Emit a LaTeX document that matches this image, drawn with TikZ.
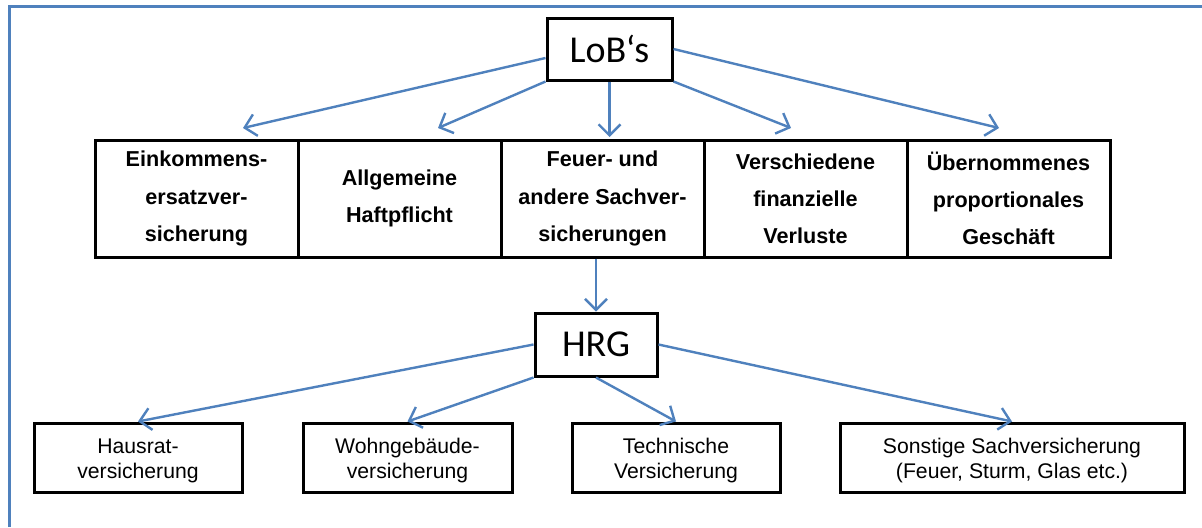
\documentclass[tikz,border=0pt]{standalone}
\usepackage{fontspec}
\setmainfont{Liberation Sans}
\newfontfamily\calfont{Carlito}
\usetikzlibrary{arrows.meta}
\definecolor{frameblue}{HTML}{4F81BD}
\begin{document}
\begin{tikzpicture}[x=0.5pt,y=0.5pt,
  lobbox/.style={draw=black,line width=1.5pt,inner sep=0pt,font=\calfont\fontsize{19}{20}\selectfont},
  lobitem/.style={draw=black,line width=1.5pt,inner sep=0pt,minimum width=101.5pt,minimum height=58.5pt,
    align=center,font=\bfseries\fontsize{10.8}{18.6}\selectfont},
  subitem/.style={draw=black,line width=1.5pt,inner sep=0pt,minimum height=34.5pt,
    align=center,font=\fontsize{10.6}{12.5}\selectfont},
  link/.style={draw=frameblue,line width=1.2pt,-{Straight Barb[length=5.5pt,width=11pt,line width=1.2pt]}}
]
\useasboundingbox (0,0) rectangle (1202,-527);
\fill[white] (0,0) rectangle (1202,-527);
% frame
\draw[frameblue,line width=1.5pt] (9,-527) -- (9,-6) -- (1202,-6);

% top node
\node[lobbox,minimum width=62.5pt,minimum height=31pt] (lob) at (609.5,-49) {LoB‘s};

% line of business boxes
\node[lobitem] (e1) at (196.5,-198.5) {Einkommens-\\ersatzver-\\sicherung};
\node[lobitem] (e2) at (399.5,-198.5) {Allgemeine\\Haftpflicht};
\node[lobitem] (e3) at (602.5,-198.5) {Feuer- und\\andere Sachver-\\sicherungen};
\node[lobitem] (e4) at (805.5,-198.5) {Verschiedene\\finanzielle\\Verluste};
\node[lobitem] (e5) at (1008.5,-198.5) {Übernommenes\\proportionales\\Geschäft};

% arrow ends above the boxes
\coordinate (t1) at (243,-128);
\coordinate (t2) at (438,-128);
\coordinate (t3) at (609.5,-137);
\coordinate (t4) at (791,-128);
\coordinate (t5) at (999,-128);

\draw[link] ([yshift=-4.5pt]lob.west) -- (t1);
\draw[link] (lob.south west) -- (t2);
\draw[link] (lob.south) -- (t3);
\draw[link] (lob.south east) -- (t4);
\draw[link] (lob.east) -- (t5);

% HRG
\node[lobbox,minimum width=61pt,minimum height=31.5pt] (hrg) at (596,-344.5) {HRG};
\draw[link] (hrg.north |- e3.south) -- (hrg.north);

% sub boxes
\node[subitem,minimum width=104pt] (b1) at (138,-457.5) {\rule{0pt}{11pt}Hausrat-\\versicherung};
\node[subitem,minimum width=104.5pt] (b2) at (407.5,-457.5) {\rule{0pt}{11pt}Wohngebäude-\\versicherung};
\node[subitem,minimum width=104pt] (b3) at (676,-457.5) {\rule{0pt}{11pt}Technische\\Versicherung};
\node[subitem,minimum width=172pt] (b4) at (1012,-457.5) {\rule{0pt}{11pt}Sonstige Sachversicherung\\(Feuer, Sturm, Glas etc.)};

\draw[link] (hrg.west) -- (b1.north);
\draw[link] (hrg.south west) -- (b2.north);
\draw[link] (hrg.south) -- (b3.north);
\draw[link] (hrg.east) -- (b4.north);
\end{tikzpicture}
\end{document}
